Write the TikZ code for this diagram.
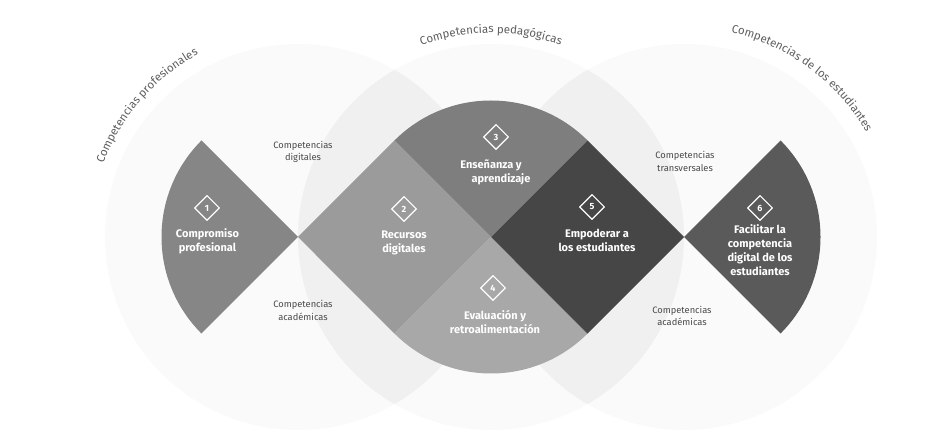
\documentclass[tikz,border=0pt]{standalone}
\usepackage{fontspec}
\setmainfont{Fira Sans}
\usetikzlibrary{decorations.text,shapes.geometric}
\definecolor{cA}{HTML}{868686}
\definecolor{cB}{HTML}{9B9B9B}
\definecolor{cC}{HTML}{7E7E7E}
\definecolor{cD}{HTML}{A8A8A8}
\definecolor{cE}{HTML}{464646}
\definecolor{cF}{HTML}{5A5A5A}
\definecolor{smallgray}{HTML}{4A4A4A}
\definecolor{arcgray}{HTML}{5E5E5E}
\tikzset{
  bgcircle/.style={fill=black, fill opacity=0.018},
  lensfill/.style={fill=black, fill opacity=0.018},
  numd/.style={shape=diamond, draw=white, line width=1.1pt, aspect=1, minimum width=25pt, minimum height=25pt, inner sep=0pt, text=white, font=\bfseries\fontsize{9}{9}\selectfont},
  biglab/.style={align=center, text=white, font=\bfseries\fontsize{11}{14}\selectfont, inner sep=0pt},
  smalllab/.style={align=center, text=smallgray, font=\fontsize{9.3}{12.5}\selectfont, inner sep=0pt},
  arctext/.style={decorate, decoration={text along path, text align=center, text={|\fontsize{11.5}{13}\selectfont\color{arcgray}|#1}}}
}
\begin{document}
\begin{tikzpicture}[x=1pt,y=1pt]
\useasboundingbox (0,0) rectangle (937,436);
\def\rs{136.5}
\coordinate (A) at (298,199);
\coordinate (B) at (491,199);
\coordinate (C) at (684,199);
% background circles
\fill[bgcircle] (A) circle[radius=193];
\fill[bgcircle] (B) circle[radius=193];
\fill[bgcircle] (C) circle[radius=193];
\begin{scope}
  \clip (A) circle[radius=193];
  \fill[lensfill] (B) circle[radius=193];
\end{scope}
\begin{scope}
  \clip (C) circle[radius=193];
  \fill[lensfill] (B) circle[radius=193];
\end{scope}
% arc labels
\path[arctext={Competencias profesionales}] ([shift={(175:208)}]A) arc[start angle=175, end angle=103, radius=208];
\path[arctext={Competencias pedagógicas}] ([shift={(128:204)}]B) arc[start angle=128, end angle=52, radius=204];
\path[arctext={Competencias de los estudiantes}] ([shift={(95:210)}]C) arc[start angle=95, end angle=12, radius=210];
% sectors
\fill[cA] (A) -- ++(135:\rs) arc[start angle=135, end angle=225, radius=\rs] -- cycle;
\fill[cB] (A) -- ++(45:\rs) -- (B) -- ++(-135:\rs) -- cycle;
\fill[cC] (B) -- ++(45:\rs) arc[start angle=45, end angle=135, radius=\rs] -- cycle;
\fill[cD] (B) -- ++(225:\rs) arc[start angle=225, end angle=315, radius=\rs] -- cycle;
\fill[cE] (B) -- ++(45:\rs) -- (C) -- ++(-135:\rs) -- cycle;
\fill[cF] (C) -- ++(-45:\rs) arc[start angle=-45, end angle=45, radius=\rs] -- cycle;
% numbers
\node[numd] (n1) at (207,228) {1};
\node[numd] (n2) at (404,227) {2};
\node[numd] (n3) at (496,299) {3};
\node[numd] (n4) at (493,148) {4};
\node[numd] (n5) at (592,229) {5};
\node[numd] (n6) at (760,228) {6};
% labels
\node[biglab] (t1) at (207.5,194.5) {Compromiso\\profesional};
\node[biglab] (t2) at (404,193.5) {Recursos\\digitales};
\node[biglab] (t3a) at (491,271) {Enseñanza y};
\node[biglab] (t3b) at (501,257) {aprendizaje};
\node[biglab] (t4) at (495,113.5) {Evaluación y\\retroalimentación};
\node[biglab] (t5) at (597,195.5) {Empoderar a\\los estudiantes};
\node[biglab] (t6) at (760,186) {Facilitar la\\competencia\\digital de los\\estudiantes};
% small labels
\node[smalllab] (s1) at (303,284) {Competencias\\digitales};
\node[smalllab] (s2) at (303,125.5) {Competencias\\académicas};
\node[smalllab] (s3) at (685,274.5) {Competencias\\transversales};
\node[smalllab] (s4) at (682,120) {Competencias\\académicas};
\end{tikzpicture}
\end{document}
